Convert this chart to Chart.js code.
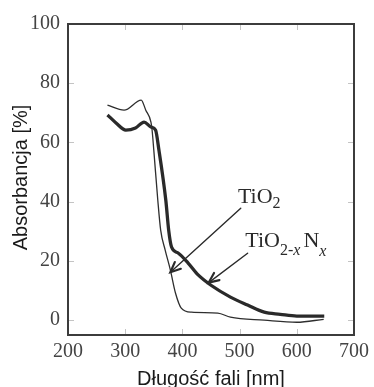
<!DOCTYPE html>
<html>
<head>
<meta charset="utf-8">
<script src="https://cdn.jsdelivr.net/npm/chart.js@4.4.1/dist/chart.umd.min.js"></script>
<style>
html, body { margin: 0; padding: 0; background: #fff; }
#wrap { width: 374px; height: 387px; }
</style>
</head>
<body>
<div id="wrap"><canvas id="myChart"></canvas></div>
<script>
// TiO2 (thin line)
let tio2Wave = [269, 298, 328, 336, 345, 347, 350, 357, 362, 370, 379, 388, 398, 416, 462, 484, 543, 600, 647]
let tio2Abs  = [72.6, 70.9, 74.3, 70.9, 66.9, 64.2, 57.4, 40.5, 30.4, 23.6, 16.9, 9.1, 4.1, 2.7, 2.4, 1.0, 0.0, -0.7, 0.3]

// TiO2-xNx (thick line)
let dopedWave = [269, 284, 301, 318, 333, 345, 353, 359, 371, 376, 381, 393, 410, 428, 450, 484, 514, 543, 571, 600, 648]
let dopedAbs  = [69.3, 66.6, 64.2, 64.9, 66.9, 65.2, 64.2, 57.4, 40.5, 30.4, 24.7, 22.6, 19.3, 15.2, 11.8, 7.8, 5.1, 2.7, 2.0, 1.4, 1.4]

let xTitle = 'Długość fali [nm]'
let yTitle = 'Absorbancja [%]'

// labels + arrows, in data units (nm, %)
let tio2Label = { x: 497, y: 39.5 }
let dopedLabel = { x: 510, y: 24.7 }
let tio2Arrow = { from: [502, 37.8], to: [379, 16.2] }
let dopedArrow = { from: [514, 22.6], to: [446, 12.7] }

const toPoints = (xs, ys) => xs.map((v, i) => ({ x: v, y: ys[i] }));

const SERIF = '"Liberation Serif", "Times New Roman", serif';
const SANS = '"Liberation Sans", Arial, sans-serif';

function drawArrow(ctx, x0, y0, x1, y1) {
    let ang = Math.atan2(y1 - y0, x1 - x0);
    let len = 11, spread = 0.42;
    ctx.beginPath();
    ctx.lineWidth = 1.4;
    ctx.moveTo(x0, y0);
    ctx.lineTo(x1, y1);
    ctx.stroke();
    ctx.beginPath();
    ctx.lineWidth = 2.2;
    ctx.moveTo(x1 - len * Math.cos(ang - spread), y1 - len * Math.sin(ang - spread));
    ctx.lineTo(x1, y1);
    ctx.lineTo(x1 - len * Math.cos(ang + spread), y1 - len * Math.sin(ang + spread));
    ctx.stroke();
}

function drawFormula(ctx, x, y, parts) {
    let cx = x;
    parts.forEach(p => {
        ctx.font = (p.italic ? 'italic ' : '') + p.size + 'px ' + SERIF;
        ctx.fillText(p.t, cx, y + (p.dy || 0));
        cx += ctx.measureText(p.t).width + (p.gap || 0);
    });
}

const framePlugin = {
    id: 'frame',
    afterDraw(chart) {
        const { ctx, chartArea: a, scales: { x, y } } = chart;
        ctx.save();

        // small inner ticks on all four sides
        ctx.strokeStyle = '#c4c4c4';
        ctx.lineWidth = 1;
        ctx.beginPath();
        x.ticks.forEach(t => {
            if (t.value <= x.min || t.value >= x.max) return;
            let px = Math.round(x.getPixelForValue(t.value)) + 0.5;
            ctx.moveTo(px, a.bottom); ctx.lineTo(px, a.bottom - 6);
            ctx.moveTo(px, a.top); ctx.lineTo(px, a.top + 6);
        });
        y.ticks.forEach(t => {
            if (t.value >= y.max) return;
            let py = Math.round(y.getPixelForValue(t.value)) + 0.5;
            ctx.moveTo(a.left, py); ctx.lineTo(a.left + 6, py);
            ctx.moveTo(a.right, py); ctx.lineTo(a.right - 6, py);
        });
        ctx.stroke();

        // plot box
        ctx.strokeStyle = '#3c3c3c';
        ctx.lineWidth = 2;
        ctx.strokeRect(a.left, a.top, a.right - a.left, a.bottom - a.top);

        // axis titles
        ctx.fillStyle = '#1a1a1a';
        ctx.font = '20px ' + SANS;
        ctx.textAlign = 'center';
        ctx.textBaseline = 'alphabetic';
        ctx.fillText(xTitle, (a.left + a.right) / 2, 385);
        ctx.save();
        ctx.translate(27, (a.top + a.bottom) / 2 - 2);
        ctx.rotate(-Math.PI / 2);
        ctx.fillText(yTitle, 0, 0);
        ctx.restore();

        // annotations
        ctx.strokeStyle = '#2a2a2a';
        ctx.fillStyle = '#2a2a2a';
        ctx.lineCap = 'round';
        drawArrow(ctx, x.getPixelForValue(tio2Arrow.from[0]), y.getPixelForValue(tio2Arrow.from[1]),
            x.getPixelForValue(tio2Arrow.to[0]), y.getPixelForValue(tio2Arrow.to[1]));
        drawArrow(ctx, x.getPixelForValue(dopedArrow.from[0]), y.getPixelForValue(dopedArrow.from[1]),
            x.getPixelForValue(dopedArrow.to[0]), y.getPixelForValue(dopedArrow.to[1]));

        ctx.textAlign = 'left';
        drawFormula(ctx, x.getPixelForValue(tio2Label.x), y.getPixelForValue(tio2Label.y), [
            { t: 'TiO', size: 22 },
            { t: '2', size: 16, dy: 5 }
        ]);
        drawFormula(ctx, x.getPixelForValue(dopedLabel.x), y.getPixelForValue(dopedLabel.y), [
            { t: 'TiO', size: 22 },
            { t: '2-', size: 16, dy: 8 },
            { t: 'x', size: 16, dy: 8, italic: true, gap: 3 },
            { t: 'N', size: 22 },
            { t: 'x', size: 16, dy: 9, italic: true }
        ]);
        ctx.restore();
    }
};

let ctx = document.getElementById('myChart').getContext('2d');

let chart = new Chart(ctx, {
    type: 'line',
    data: {
        datasets: [{
            label: 'TiO2',
            data: toPoints(tio2Wave, tio2Abs),
            borderColor: '#2e2e2e',
            borderWidth: 1.3,
            pointRadius: 0,
            cubicInterpolationMode: 'monotone',
        },
        {
            label: 'TiO2-xNx',
            data: toPoints(dopedWave, dopedAbs),
            borderColor: '#2a2a2a',
            borderWidth: 3.3,
            pointRadius: 0,
            cubicInterpolationMode: 'monotone',
        }]
    },
    options: {
        responsive: true,
        maintainAspectRatio: false,
        animation: false,
        layout: { padding: { top: 24, right: 16, left: 0, bottom: 0 } },
        plugins: {
            legend: { display: false },
            tooltip: { enabled: false },
        },
        scales: {
            x: {
                type: 'linear',
                min: 200,
                max: 700,
                grid: { display: false, drawTicks: false },
                border: { display: false },
                ticks: {
                    stepSize: 100,
                    padding: 5,
                    color: '#444',
                    font: { family: SERIF, size: 20 },
                    maxRotation: 0,
                },
                afterFit: scale => { scale.height = 52 },
            },
            y: {
                min: -5,
                max: 100,
                grid: { display: false, drawTicks: false },
                border: { display: false },
                ticks: {
                    stepSize: 20,
                    includeBounds: false,
                    padding: 8,
                    color: '#444',
                    font: { family: SERIF, size: 20 },
                },
                afterFit: scale => { scale.width = 68 },
            }
        }
    },
    plugins: [framePlugin]
});
</script>
</body>
</html>
